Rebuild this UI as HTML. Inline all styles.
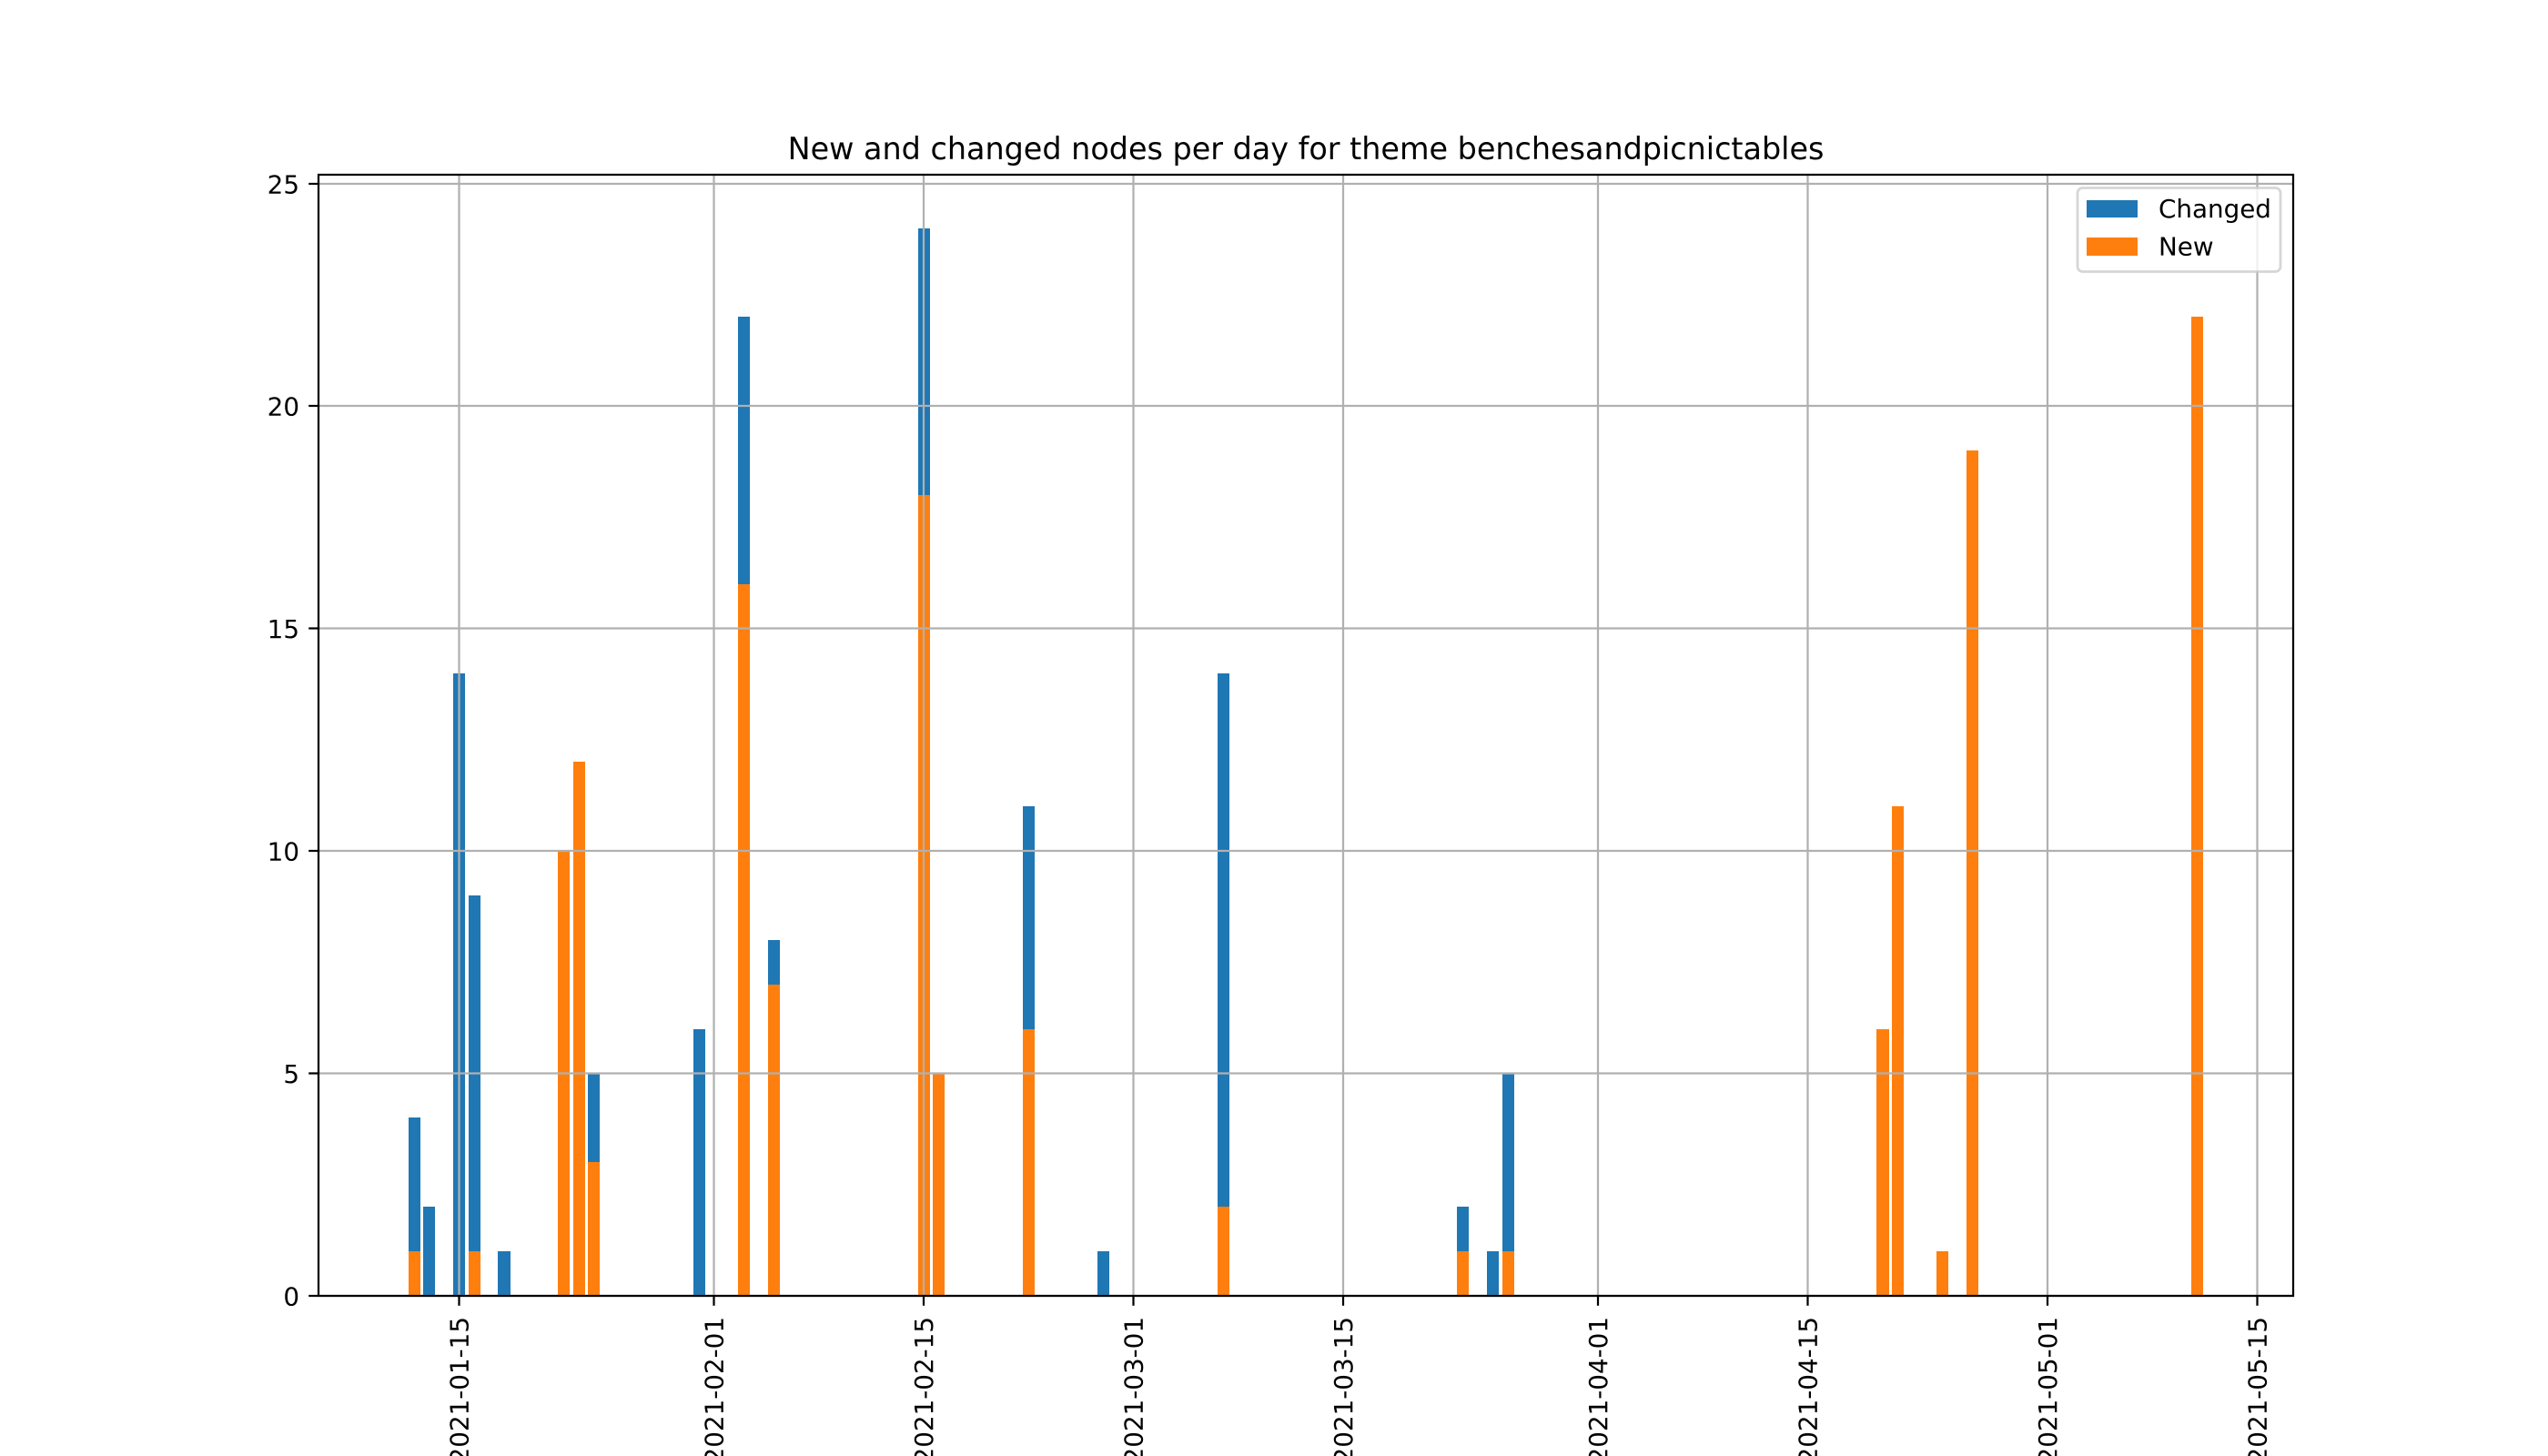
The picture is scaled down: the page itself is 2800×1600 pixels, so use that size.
<!DOCTYPE html>
<html lang="en">
<head>
<meta charset="utf-8">
<title>New and changed nodes per day for theme benchesandpicnictables</title>
<style>
  html, body { margin: 0; padding: 0; background: #fff; width: 2800px; height: 1600px; overflow: hidden; }
  svg { display: block; }
  text { font-family: "DejaVu Sans", "Liberation Sans", sans-serif; fill: #000; }
</style>
</head>
<body>
<svg id="chart" xmlns="http://www.w3.org/2000/svg" width="2800" height="1600" viewBox="0 0 2800 1600">
  <rect x="0" y="0" width="2800" height="1600" fill="#ffffff"/>
  <g id="bars-new"></g>
  <g id="bars-changed"></g>
  <g id="grid"></g>
  <g id="ticks"></g>
  <g id="spines" fill="none" stroke="#000" stroke-width="2.22">
    <rect x="350" y="192" width="2170" height="1232" stroke-linejoin="miter"/>
  </g>
  <text x="1435" y="175" font-size="33.4" text-anchor="middle">New and changed nodes per day for theme benchesandpicnictables</text>
  <g>
    <rect x="2283" y="206.5" width="223" height="92" rx="5.6" ry="5.6" fill="#ffffff" fill-opacity="0.8" stroke="#cccccc" stroke-opacity="0.8" stroke-width="2.78"/>
    <rect x="2293" y="220" width="56" height="19" fill="#1f77b4"/>
    <text x="2372" y="239" font-size="27.78">Changed</text>
    <rect x="2293" y="261" width="56" height="20" fill="#ff7f0e"/>
    <text x="2372" y="280.6" font-size="27.78">New</text>
  </g>
</svg>
<script>
const dates = ["2021-01-12","2021-01-13","2021-01-15","2021-01-16","2021-01-18","2021-01-22","2021-01-23","2021-01-24","2021-01-31","2021-02-03","2021-02-05","2021-02-15","2021-02-16","2021-02-22","2021-02-27","2021-03-07","2021-03-23","2021-03-25","2021-03-26","2021-04-20","2021-04-21","2021-04-24","2021-04-26","2021-05-11"];
const changedValues = [3,2,14,8,1,0,0,2,6,6,1,6,0,5,1,12,1,1,4,0,0,0,0,0];
const newValues = [1,0,0,1,0,10,12,3,0,16,7,18,5,6,0,2,1,0,1,6,11,1,19,22];
const xTickLabels = ["2021-01-15","2021-02-01","2021-02-15","2021-03-01","2021-03-15","2021-04-01","2021-04-15","2021-05-01","2021-05-15"];
const yTickLabels = [0,5,10,15,20,25];

const NS = "http://www.w3.org/2000/svg";
const plotLeft = 350, plotRight = 2520, plotTop = 192, plotBottom = 1424;
const barWidthDays = 0.8;

function dayNumber(s) { return Date.parse(s + "T00:00:00Z") / 86400000; }

const dayNums = dates.map(dayNumber);
const firstEdge = Math.min.apply(null, dayNums) - barWidthDays / 2;
const lastEdge = Math.max.apply(null, dayNums) + barWidthDays / 2;
const xMargin = (lastEdge - firstEdge) * 0.05;
const xMin = firstEdge - xMargin, xMax = lastEdge + xMargin;
const totals = dates.map(function (d, i) { return changedValues[i] + newValues[i]; });
const yMax = Math.max.apply(null, totals) * 1.05;

function xScale(day) { return plotLeft + (day - xMin) / (xMax - xMin) * (plotRight - plotLeft); }
function yScale(v) { return plotBottom - v / yMax * (plotBottom - plotTop); }

function make(tag, attrs, parent) {
  const el = document.createElementNS(NS, tag);
  Object.keys(attrs).forEach(function (k) { el.setAttribute(k, attrs[k]); });
  parent.appendChild(el);
  return el;
}

function snappedBar(day, v0, v1, color, parent) {
  const x0 = Math.round(xScale(day - barWidthDays / 2));
  const x1 = Math.round(xScale(day + barWidthDays / 2));
  const yA = Math.round(yScale(v1));
  const yB = Math.round(yScale(v0));
  return make("rect", { x: x0, y: yA, width: x1 - x0, height: yB - yA, fill: color }, parent);
}

const newGroup = document.getElementById("bars-new");
const changedGroup = document.getElementById("bars-changed");
const gridGroup = document.getElementById("grid");
const tickGroup = document.getElementById("ticks");

dates.forEach(function (d, i) {
  const nb = snappedBar(dayNums[i], 0, newValues[i], "#ff7f0e", newGroup);
  
  
  const cb = snappedBar(dayNums[i], newValues[i], newValues[i] + changedValues[i], "#1f77b4", changedGroup);
  
  
});

xTickLabels.forEach(function (label) {
  const x = Math.round(xScale(dayNumber(label)) * 2) / 2;
  const g = make("line", { x1: x, x2: x, y1: plotTop, y2: plotBottom, stroke: "#b0b0b0", "stroke-width": 2.22 }, gridGroup);
  
  
  const t = make("line", { x1: x, x2: x, y1: plotBottom, y2: plotBottom + 10.8, stroke: "#000", "stroke-width": 2.22 }, tickGroup);
  
  
  const tx = make("text", { transform: "translate(" + (x + 10) + ",1447) rotate(-90)", "font-size": 27.78, "text-anchor": "end" }, tickGroup);
  tx.textContent = label;
  
  
});

yTickLabels.forEach(function (v) {
  const y = Math.round(yScale(v) * 2) / 2;
  const g = make("line", { x1: plotLeft, x2: plotRight, y1: y, y2: y, stroke: "#b0b0b0", "stroke-width": 2.22 }, gridGroup);
  
  
  const t = make("line", { x1: plotLeft - 10.8, x2: plotLeft, y1: y, y2: y, stroke: "#000", "stroke-width": 2.22 }, tickGroup);
  
  
  const tx = make("text", { x: 329, y: y + 10.5, "font-size": 27.78, "text-anchor": "end" }, tickGroup);
  tx.textContent = String(v);
  
  
});
</script>
</body>
</html>
